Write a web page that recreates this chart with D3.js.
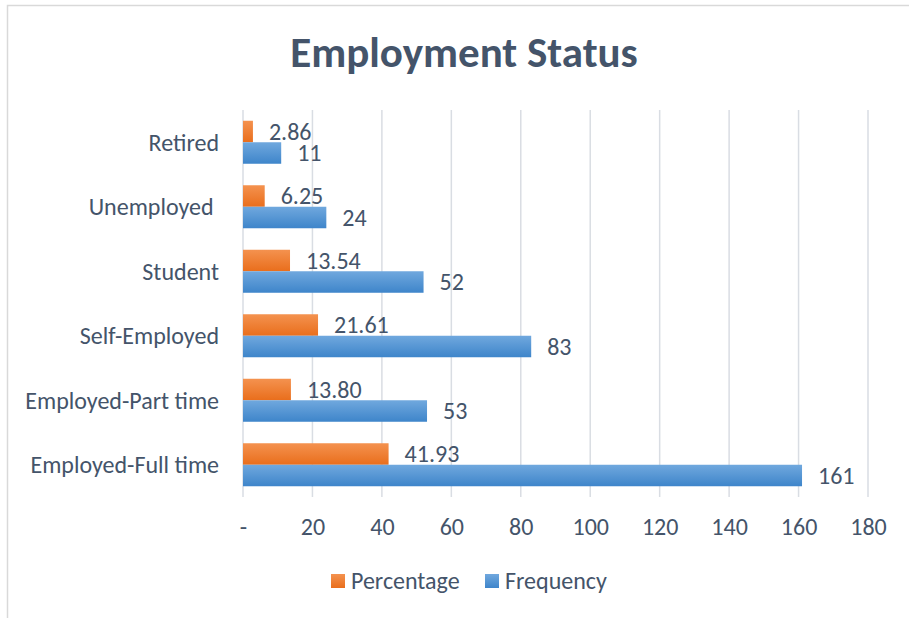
<!DOCTYPE html>
<html>
<head>
<meta charset="utf-8">
<script src="https://cdn.jsdelivr.net/npm/d3@7"></script>
<style>
  body { margin: 0; background: #fff; }
  text { font-family: Carlito, Lato, sans-serif; fill: #44546A; }
</style>
</head>
<body>
<script>
var width = 909, height = 618;

// data (top to bottom as drawn)
var categories = ["Retired", "Unemployed ", "Student", "Self-Employed", "Employed-Part time", "Employed-Full time"];
var percentage = [2.86, 6.25, 13.54, 21.61, 13.80, 41.93];
var frequency = [11, 24, 52, 83, 53, 161];
var seriesNames = ["Percentage", "Frequency"];
var tickValues = [0, 20, 40, 60, 80, 100, 120, 140, 160, 180];

var colors = {
  Percentage: ["#F4924F", "#E96E1C"],
  Frequency: ["#70A8DE", "#3E85CA"]
};

var fontSize = "24px";

var svg = d3.select("body").append("svg")
    .attr("width", width)
    .attr("height", height);

var defs = svg.append("defs");
seriesNames.forEach(function(s) {
  var g = defs.append("linearGradient")
      .attr("id", "grad-" + s)
      .attr("x1", 0).attr("y1", 0).attr("x2", 0).attr("y2", 1);
  g.append("stop").attr("offset", "0%").attr("stop-color", colors[s][0]);
  g.append("stop").attr("offset", "100%").attr("stop-color", colors[s][1]);
});

// chart border
svg.append("rect")
    .attr("x", 7.5).attr("y", 5.5)
    .attr("width", width + 10).attr("height", height + 10)
    .attr("fill", "none")
    .attr("stroke", "#D9D9D9")
    .attr("stroke-width", 1.5);

// title
svg.append("text")
    .attr("x", 464)
    .attr("y", 67)
    .attr("text-anchor", "middle")
    .style("font-size", "43px")
    .style("font-weight", "bold")
    .text("Employment Status");

var x = d3.scaleLinear().domain([0, 180]).range([243, 868]);

var y = d3.scaleBand()
    .domain(categories)
    .range([110, 497])
    .paddingInner(1 / 3)
    .paddingOuter(1 / 6);

var ySub = d3.scaleBand()
    .domain(seriesNames)
    .range([0, y.bandwidth()]);

// gridlines
svg.append("g").selectAll("line")
    .data(tickValues)
  .enter().append("line")
    .attr("x1", function(d) { return x(d); })
    .attr("x2", function(d) { return x(d); })
    .attr("y1", 110)
    .attr("y2", 497)
    .attr("stroke", "#D9DDE3")
    .attr("stroke-width", 1.5);

// x axis labels
var xAxis = d3.axisBottom(x)
    .tickValues(tickValues)
    .tickSize(0)
    .tickPadding(0)
    .tickFormat(function(d) { return d === 0 ? "-" : d; });

var xg = svg.append("g")
    .attr("transform", "translate(0,520)")
    .call(xAxis);
xg.select(".domain").remove();
xg.selectAll("text")
    .attr("dy", "0.35em")
    .attr("y", 7)
    .style("font-size", fontSize)
    .attr("fill", "#44546A");

// category labels
svg.append("g").selectAll("text")
    .data(categories)
  .enter().append("text")
    .attr("x", 219)
    .attr("y", function(d) { return y(d) + y.bandwidth() / 2; })
    .attr("dy", "0.35em")
    .attr("text-anchor", "end")
    .style("font-size", fontSize)
    .style("white-space", "pre")
    .text(function(d) { return d; });

var rows = categories.map(function(c, i) {
  return { cat: c, Percentage: percentage[i], Frequency: frequency[i] };
});

var groups = svg.append("g").selectAll("g")
    .data(rows)
  .enter().append("g")
    .attr("transform", function(d) { return "translate(0," + y(d.cat) + ")"; });

var bars = groups.selectAll("g")
    .data(function(d) {
      return seriesNames.map(function(s) { return { key: s, value: d[s] }; });
    })
  .enter().append("g");

bars.append("rect")
    .attr("x", x(0))
    .attr("y", function(d) { return ySub(d.key); })
    .attr("width", function(d) { return x(d.value) - x(0); })
    .attr("height", ySub.bandwidth())
    .attr("fill", function(d) { return "url(#grad-" + d.key + ")"; });

bars.append("text")
    .attr("x", function(d) { return x(d.value) + 16; })
    .attr("y", function(d) { return ySub(d.key) + ySub.bandwidth() / 2; })
    .attr("dy", "0.35em")
    .style("font-size", fontSize)
    .text(function(d) {
      return d.key === "Percentage" ? d3.format(".2f")(d.value) : d.value;
    });

// legend
var legendX = [331, 485];
var legend = svg.append("g").selectAll("g")
    .data(seriesNames)
  .enter().append("g")
    .attr("transform", function(d, i) { return "translate(" + legendX[i] + ",574)"; });

legend.append("rect")
    .attr("width", 14)
    .attr("height", 14)
    .attr("fill", function(d) { return "url(#grad-" + d + ")"; });

legend.append("text")
    .attr("x", 20)
    .attr("y", 7)
    .attr("dy", "0.35em")
    .style("font-size", fontSize)
    .text(function(d) { return d; });
</script>
</body>
</html>
